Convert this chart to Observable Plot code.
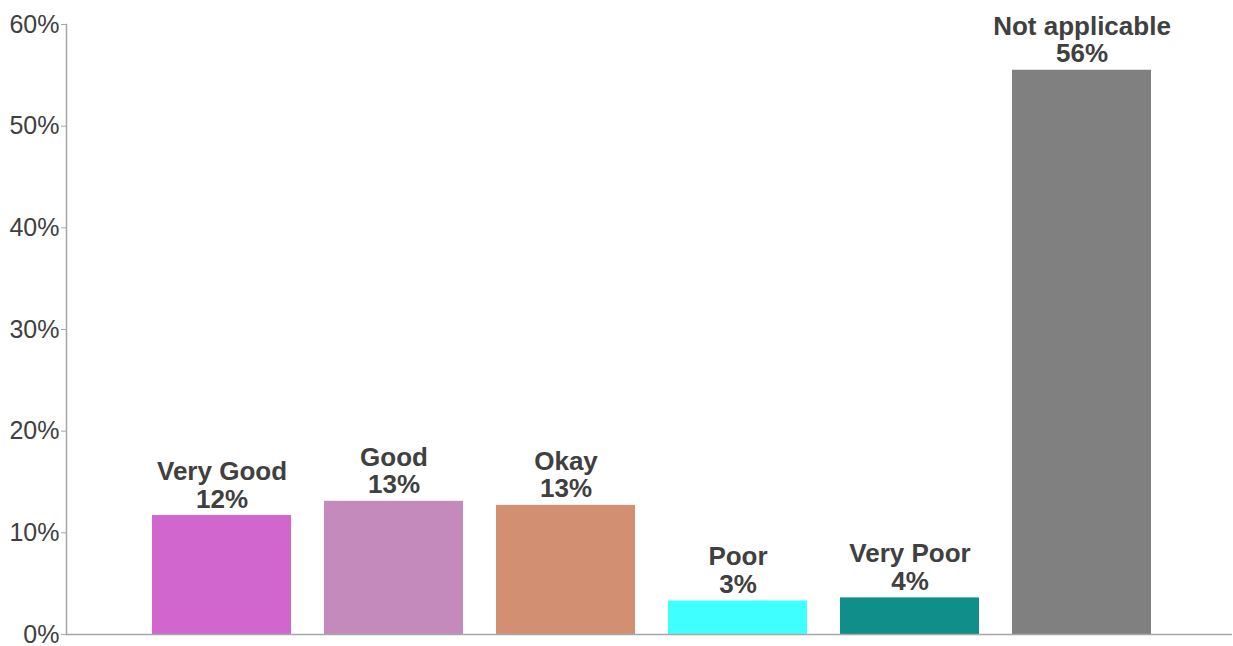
<!DOCTYPE html>
<html>
<head>
<meta charset="utf-8">
<script src="https://cdn.jsdelivr.net/npm/d3@7"></script>
<script src="https://cdn.jsdelivr.net/npm/@observablehq/plot@0.6"></script>
<style>
  html, body { margin: 0; padding: 0; background: #fff; }
  #chart svg { display: block; }
</style>
</head>
<body>
<div id="chart"></div>
<script>
const categories = ["Very Good", "Good", "Okay", "Poor", "Very Poor", "Not applicable"];
const values = [11.7, 13.1, 12.7, 3.3, 3.6, 55.5];
const valueLabels = ["12%", "13%", "13%", "3%", "4%", "56%"];
const colors = ["#D166CE", "#C48ABB", "#D38F72", "#40FFFF", "#108E8A", "#808080"];
const yTicks = [0, 10, 20, 30, 40, 50, 60];

const data = categories.map((c, i) => ({cat: c, value: values[i], label: c + "\n" + valueLabels[i]}));

const chart = Plot.plot({
  width: 1233,
  height: 646,
  marginTop: 24,
  marginBottom: 12,
  marginLeft: 66,
  marginRight: 1,
  style: {fontFamily: "'Liberation Sans', Arial, sans-serif", color: "#404040", background: "#fff"},
  x: {domain: categories, paddingInner: 0.19, paddingOuter: 0.48, align: 0.515, axis: null},
  y: {domain: [0, 60], axis: null},
  color: {domain: categories, range: colors},
  marks: [
    Plot.barY(data, {x: "cat", y: "value", fill: "cat"}),
    Plot.ruleY([0], {stroke: "#a6a6a6", strokeWidth: 1.5}),
    Plot.frame({anchor: "left", stroke: "#a6a6a6", strokeWidth: 1.5}),
    Plot.axisY(yTicks, {
      label: null, tickSize: 5, tickPadding: 2, fontSize: 25, fill: "#404040", stroke: "#a6a6a6",
      tickFormat: d => d + "%"
    }),
    Plot.text(data, {
      x: "cat", y: "value", text: "label", lineAnchor: "bottom", dy: -8,
      fontSize: 26, fontWeight: "bold", fill: "#404040", lineHeight: 1.06
    })
  ]
});
document.getElementById("chart").append(chart);
</script>
</body>
</html>
